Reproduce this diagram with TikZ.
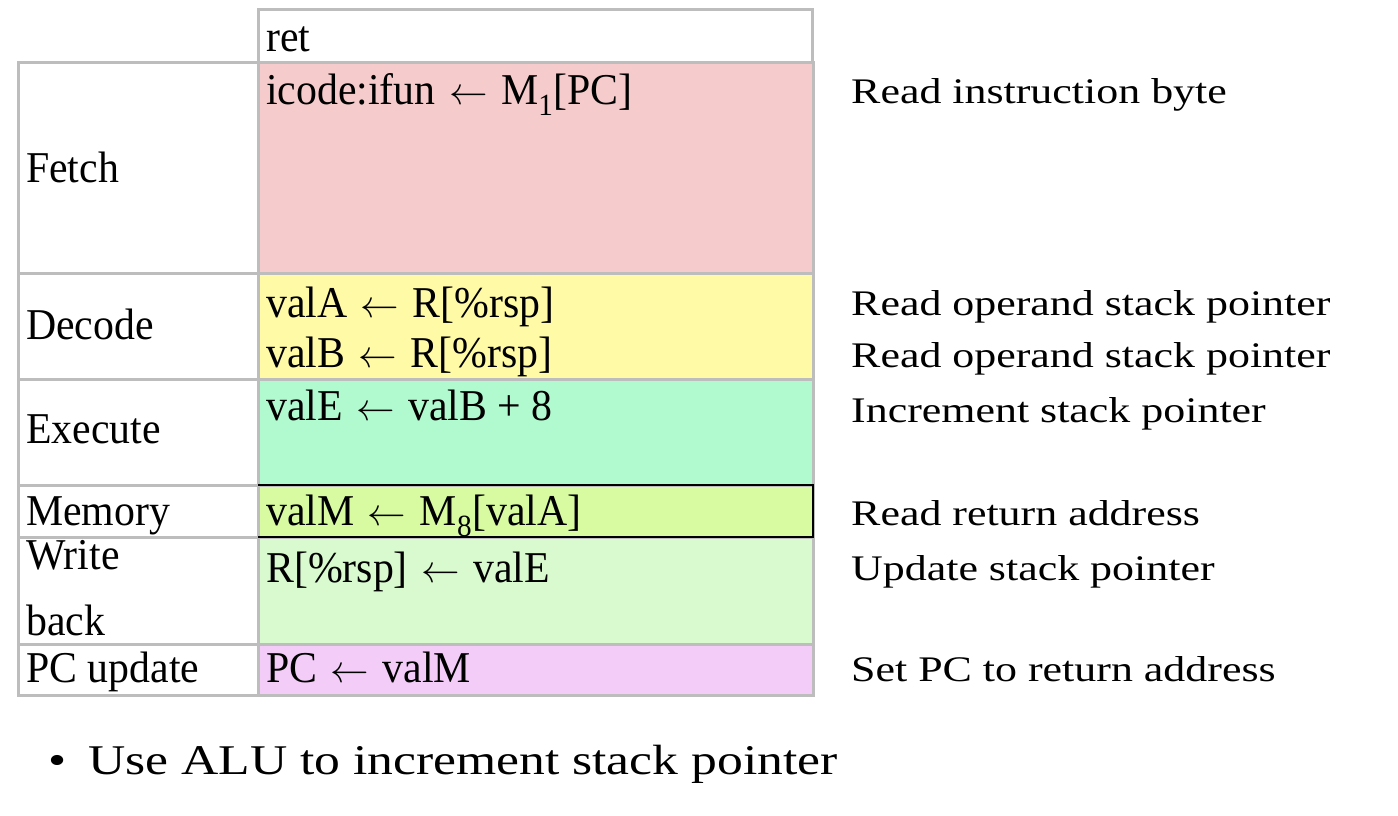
\documentclass[tikz,border=0pt]{standalone}
\usepackage{fontspec}
\setmainfont{Liberation Serif}
\newfontfamily\tabfont[FakeStretch=0.95]{Liberation Serif}
\newfontfamily\descfont[FakeStretch=1.22]{Liberation Serif}
\definecolor{gridgray}{HTML}{BDBDBD}
\definecolor{cfetch}{HTML}{F5CCCB}
\definecolor{cdecode}{HTML}{FFFAA6}
\definecolor{cexec}{HTML}{B1FACF}
\definecolor{cmem}{HTML}{D8FAA0}
\definecolor{cwb}{HTML}{D8FACE}
\definecolor{cpc}{HTML}{F3CDF8}
\newcommand{\larr}{\hspace{3pt}{\fontsize{24}{24}\selectfont\scalebox{1.55}{$\leftarrow$}}\hspace{3pt}}
\tikzset{
  cell/.style={draw=gridgray, line width=3pt},
  tabtxt/.style={anchor=base west, inner sep=0pt, font=\tabfont\fontsize{44}{44}\selectfont},
  desctxt/.style={anchor=base west, inner sep=0pt, font=\descfont\fontsize{36}{36}\selectfont},
  bullettxt/.style={anchor=base west, inner sep=0pt, font=\descfont\fontsize{42.3}{42.3}\selectfont}
}
\begin{document}
\begin{tikzpicture}[x=1pt,y=-1pt]
\useasboundingbox (0,0) rectangle (1398,816);
\fill[white] (0,0) rectangle (1398,816);
% header
\draw[cell, fill=white] (258,10) rectangle (812,63);
% label column
\draw[cell] (18,63) rectangle (258,273);
\draw[cell] (18,273) rectangle (258,379);
\draw[cell] (18,379) rectangle (258,485);
\draw[cell] (18,485) rectangle (258,537);
\draw[cell] (18,537) rectangle (258,644);
\draw[cell] (18,644) rectangle (258,695);
% value column
\draw[cell, fill=cfetch] (258,63) rectangle (813,273);
\draw[cell, fill=cdecode] (258,273) rectangle (813,379);
\draw[cell, fill=cexec] (258,379) rectangle (813,485);
\draw[cell, fill=cwb] (258,537) rectangle (813,644);
\draw[cell, fill=cpc] (258,644) rectangle (813,695);
\draw[cell, fill=cmem] (258,485) rectangle (813,537);
\draw[black, line width=2.5pt] (258,485) -- (813,485) -- (813,537) -- (258,537);
% texts
\node[tabtxt] (ret) at (266,52) {ret};
\node[tabtxt] (lfetch) at (26,182) {Fetch};
\node[tabtxt] (vfetch) at (266,104) {icode:ifun \larr{} M\textsubscript{1}[PC]};
\node[tabtxt] (ldecode) at (26,339) {Decode};
\node[tabtxt] (vdecodea) at (266,317) {valA \larr{} R[\%rsp]};
\node[tabtxt] (vdecodeb) at (266,367) {valB \larr{} R[\%rsp]};
\node[tabtxt] (lexec) at (26,443) {Execute};
\node[tabtxt] (vexec) at (266,420) {valE \larr{} valB + 8};
\node[tabtxt] (lmem) at (26,525) {Memory};
\node[tabtxt] (vmem) at (266,525) {valM \larr{} M\textsubscript{8}[valA]};
\node[tabtxt] (lwb1) at (26,569) {Write};
\node[tabtxt] (lwb2) at (26,635) {back};
\node[tabtxt] (vwb) at (266,582) {R[\%rsp] \larr{} valE};
\node[tabtxt] (lpc) at (26,682) {PC update};
\node[tabtxt] (vpc) at (266,682) {PC \larr{} valM};
% descriptions
\node[desctxt] (d1) at (851,103) {Read instruction byte};
\node[desctxt] (d2) at (851,315) {Read operand stack pointer};
\node[desctxt] (d3) at (851,367) {Read operand stack pointer};
\node[desctxt] (d4) at (851,422) {Increment stack pointer};
\node[desctxt] (d5) at (851,525) {Read return address};
\node[desctxt] (d6) at (851,580) {Update stack pointer};
\node[desctxt] (d7) at (851,681) {Set PC to return address};
% bullet
\node[bullettxt] (bul) at (48,774) {•};
\node[bullettxt] (note) at (88,774) {Use ALU to increment stack pointer};
\end{tikzpicture}
\end{document}
